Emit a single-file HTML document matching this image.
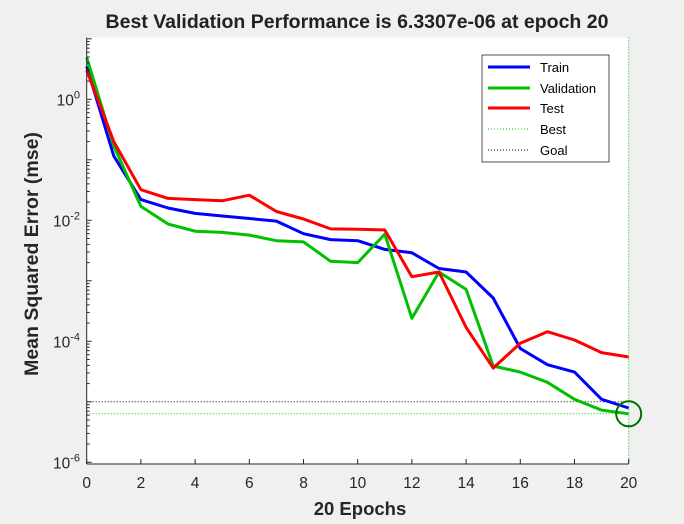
<!DOCTYPE html>
<html><head><meta charset="utf-8"><style>
body{margin:0;background:#f0f0f0;}
svg{display:block;font-family:"Liberation Sans",Arial,sans-serif;}
</style></head><body>
<svg id="chart" width="684" height="524">
<rect x="0" y="0" width="684" height="524" fill="#f0f0f0"/>
<rect x="86.7" y="37.5" width="542" height="426.5" fill="#fff"/>
<g id="grid"></g><g id="series"></g><g id="axes"></g>
<text x="357" y="28" text-anchor="middle" font-size="19.5" font-weight="bold" fill="#222">Best Validation Performance is 6.3307e-06 at epoch 20</text>
<text x="360" y="515" text-anchor="middle" font-size="18.5" font-weight="bold" fill="#262626">20 Epochs</text>
<text transform="translate(38,254) rotate(-90)" text-anchor="middle" font-size="19.5" font-weight="bold" fill="#262626">Mean Squared Error  (mse)</text>
<g>
<rect x="482" y="55" width="127" height="107" fill="#fff" stroke="#262626" stroke-width="0.8"/>
<line x1="488" y1="67" x2="530" y2="67" stroke="#0000ff" stroke-width="3"/>
<text x="540" y="72" font-size="13" fill="#000">Train</text>
<line x1="488" y1="88" x2="530" y2="88" stroke="#00c000" stroke-width="3"/>
<text x="540" y="93" font-size="13" fill="#000">Validation</text>
<line x1="488" y1="108" x2="530" y2="108" stroke="#ff0000" stroke-width="3"/>
<text x="540" y="113" font-size="13" fill="#000">Test</text>
<line x1="488" y1="129" x2="530" y2="129" stroke="#00c000" stroke-width="1" stroke-dasharray="1,2"/>
<text x="540" y="134" font-size="13" fill="#000">Best</text>
<line x1="488" y1="150" x2="530" y2="150" stroke="#000" stroke-width="1" stroke-dasharray="1,2"/>
<text x="540" y="155" font-size="13" fill="#000">Goal</text>
</g>
</svg>
<script>
const epochs=[0,1,2,3,4,5,6,7,8,9,10,11,12,13,14,15,16,17,18,19,20];
const train=[3.5,0.115,0.022,0.016,0.013,0.0118,0.0107,0.0097,0.006,0.0048,0.0046,0.0033,0.0029,0.0016,0.0014,0.00052,7.6e-5,4.1e-5,3.1e-5,1.1e-5,7.9e-6];
const validation=[4.9,0.17,0.017,0.0087,0.0066,0.0063,0.0057,0.0046,0.0044,0.0021,0.002,0.0059,2.4e-4,0.0014,7.2e-4,3.9e-5,3.1e-5,2.1e-5,1.1e-5,7.3e-6,6.3307e-6];
const test=[3.0,0.2,0.032,0.023,0.022,0.021,0.026,0.014,0.0105,0.0072,0.0071,0.0069,0.00117,0.0014,1.7e-4,3.6e-5,9.3e-5,1.44e-4,1.05e-4,6.5e-5,5.5e-5];
const xTicks=[0,2,4,6,8,10,12,14,16,18,20];
const yTickExps=[0,-2,-4,-6];
const goal=1e-5;
const bestEpoch=20;
const bestValue=6.3307e-6;

const X0=86.7,X1=628.7,YTOP=37.5,YBOT=464;
const yAt0=99.3,pxDec=60.5;
function sx(e){return X0+(e-0)/20*(X1-X0);}
function sy(v){return yAt0-Math.log10(v)*pxDec;}
const NS="http://www.w3.org/2000/svg";
function mk(tag,attrs,parent){const el=document.createElementNS(NS,tag);for(const k in attrs)el.setAttribute(k,attrs[k]);parent.appendChild(el);return el;}
const ser=document.getElementById('series'),ax=document.getElementById('axes');

let gl=mk('line',{x1:X0,x2:X1,y1:sy(goal),y2:sy(goal),stroke:'#000','stroke-width':1,'stroke-dasharray':'1,2'},ser);


let bl=mk('line',{x1:X0,x2:X1,y1:sy(bestValue),y2:sy(bestValue),stroke:'#00c000','stroke-width':1,'stroke-dasharray':'1,2'},ser);


let bv=mk('line',{x1:sx(bestEpoch),x2:sx(bestEpoch),y1:YTOP,y2:YBOT,stroke:'#00c000','stroke-width':1,'stroke-dasharray':'1,2'},ser);



[[train,'#0000ff','train-line'],[validation,'#00c000','validation-line'],[test,'#ff0000','test-line']].forEach(([d,c,n])=>{
  const pts=d.map((v,i)=>sx(epochs[i]).toFixed(1)+','+sy(v).toFixed(1)).join(' ');
  const p=mk('polyline',{points:pts,fill:'none',stroke:c,'stroke-width':3,'stroke-linejoin':'round'},ser);
  
  
});
let circ=mk('circle',{cx:sx(bestEpoch),cy:sy(bestValue),r:12.5,fill:'none',stroke:'#007000','stroke-width':2},ser);



let xa=mk('line',{x1:X0,x2:X1,y1:YBOT,y2:YBOT,stroke:'#262626','stroke-width':1},ax);


let ya=mk('line',{x1:X0,x2:X0,y1:YTOP,y2:YBOT,stroke:'#262626','stroke-width':1},ax);


xTicks.forEach(t=>{
  mk('line',{x1:sx(t),x2:sx(t),y1:YBOT,y2:YBOT-5,stroke:'#262626'},ax);
  const tx=mk('text',{x:sx(t),y:488,'text-anchor':'middle','font-size':15.5,fill:'#262626'},ax);
  tx.textContent=t;
  
  
});
for(let e=-6;e<=1;e++){
  for(let m=1;m<10;m++){
    const v=m*Math.pow(10,e);const y=sy(v);
    if(y<YTOP||y>YBOT)continue;
    mk('line',{x1:X0,x2:X0+(m===1?5:3),y1:y,y2:y,stroke:'#262626'},ax);
  }
}
yTickExps.forEach(e=>{
  const tx=mk('text',{x:80,y:sy(Math.pow(10,e))+6,'text-anchor':'end','font-size':15.5,fill:'#262626'},ax);
  tx.innerHTML='10<tspan dy="-7" font-size="11">'+e+'</tspan>';
  
  
});
</script>
</body></html>
